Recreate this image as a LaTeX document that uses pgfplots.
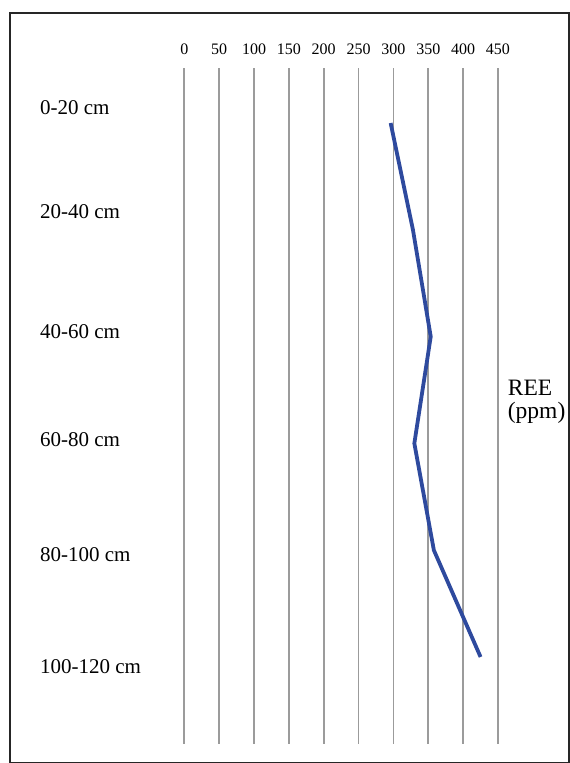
\documentclass[border=0pt]{standalone}
\usepackage{fontspec}
\setmainfont{Liberation Serif}
\usepackage{pgfplots}
\pgfplotsset{compat=1.18}
\definecolor{reeblue}{RGB}{46,74,158}
\definecolor{gridgray}{RGB}{155,155,155}
\begin{document}
\begin{tikzpicture}[x=1pt,y=1pt]
\path[use as bounding box] (0,0) rectangle (570,-763);
\draw[line width=1.8pt, black!85] (10,-13) rectangle (569,-763);
\begin{axis}[
  at={(184.3pt,-68pt)}, anchor=north west,
  width=313.7pt, height=676pt, scale only axis,
  xmin=0, xmax=450, ymin=-0.515, ymax=5.815, y dir=reverse,
  axis line style={draw=none},
  major tick length=0pt,
  xtick={0,50,...,450},
  xticklabel pos=upper,
  xmajorgrids, grid style={gridgray, line width=1.8pt},
  xticklabel style={font=\fontsize{16}{16}\selectfont, inner sep=0pt, anchor=south, yshift=13.5pt},
  /pgf/number format/assume math mode=true,
  ytick={-0.140,0.833,1.957,2.968,4.045,5.094},
  yticklabels={0-20 cm,20-40 cm,40-60 cm,60-80 cm,80-100 cm,100-120 cm},
  yticklabel style={font=\fontsize{21}{21}\selectfont, inner sep=0pt, anchor=west, xshift=-144.3pt},
  clip=false,
]
\addplot[reeblue, line width=3.8pt] coordinates {(296,0) (328,1) (353.5,2) (330,3) (358,4) (425,5)};
\end{axis}
\node[anchor=west, align=left, inner sep=0pt, font=\fontsize{23.5}{23}\selectfont] at (507.7,-401.5) {REE\\(ppm)};
\end{tikzpicture}
\end{document}
